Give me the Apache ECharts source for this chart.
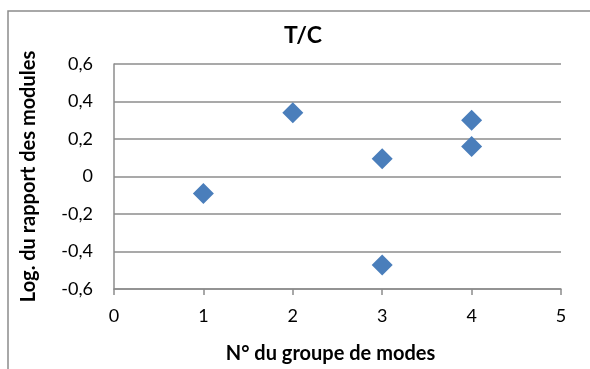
<!DOCTYPE html>
<html>
<head>
<meta charset="utf-8">
<script src="https://cdn.jsdelivr.net/npm/echarts@6/dist/echarts.min.js"></script>
<style>
html,body{margin:0;padding:0;background:#fff;}
#chart{width:590px;height:369px;}
</style>
</head>
<body>
<div id="chart"></div>
<script>
var chartTitle = "T/C";
var xAxisName = "N° du groupe de modes";
var yAxisName = "Log. du rapport des modules";
var groupNumbers = [1, 2, 3, 3, 4, 4];
var logRatios = [-0.09, 0.34, 0.095, -0.472, 0.30, 0.16];

var points = groupNumbers.map(function (g, i) { return [g, logRatios[i]]; });
var FONT = "Lato";
var GRAY = "#8c8c8c";

var chart = echarts.init(document.getElementById('chart'), null, {renderer: 'canvas'});
chart.setOption({
  animation: false,
  backgroundColor: '#ffffff',
  graphic: [{
    type: 'rect',
    shape: {x: 8, y: 11, width: 700, height: 500},
    style: {fill: 'none', stroke: GRAY, lineWidth: 1.5},
    silent: true,
    z: -1
  }],
  title: {
    text: chartTitle,
    left: 298,
    textAlign: 'center',
    top: 19,
    textStyle: {fontFamily: FONT, fontWeight: 'bold', fontSize: 23, color: '#000'}
  },
  grid: {left: 114, right: 29, top: 64, bottom: 79, containLabel: false},
  xAxis: {
    type: 'value',
    min: 0, max: 5, interval: 1,
    name: xAxisName,
    nameLocation: 'middle',
    nameGap: 55,
    nameTextStyle: {fontFamily: FONT, fontWeight: 'bold', fontSize: 20, color: '#000', padding: [0, 14, 0, 0]},
    axisLine: {show: true, onZero: false, lineStyle: {color: GRAY, width: 1.5}},
    axisTick: {show: true, inside: false, length: 6, lineStyle: {color: GRAY, width: 1.5}},
    axisLabel: {fontFamily: FONT, fontSize: 18, color: '#000', margin: 18},
    splitLine: {show: false}
  },
  yAxis: {
    type: 'value',
    min: -0.6, max: 0.6, interval: 0.2,
    name: yAxisName,
    nameLocation: 'middle',
    nameGap: 75,
    nameRotate: 90,
    nameTextStyle: {fontFamily: FONT, fontWeight: 'bold', fontSize: 20, color: '#000'},
    axisLine: {show: true, onZero: false, lineStyle: {color: GRAY, width: 1.5}},
    axisTick: {show: false},
    axisLabel: {
      fontFamily: FONT, fontSize: 18, color: '#000', margin: 21,
      formatter: function (v) {
        var r = Math.round(v * 10) / 10;
        if (r === 0) return '0';
        return r.toFixed(1).replace('.', ',');
      }
    },
    splitLine: {show: true, lineStyle: {color: GRAY, width: 1.5}}
  },
  series: [{
    type: 'scatter',
    data: points,
    symbol: 'diamond',
    symbolSize: [21, 21],
    itemStyle: {color: '#4a7ebb', opacity: 1}
  }]
});
</script>
</body>
</html>
